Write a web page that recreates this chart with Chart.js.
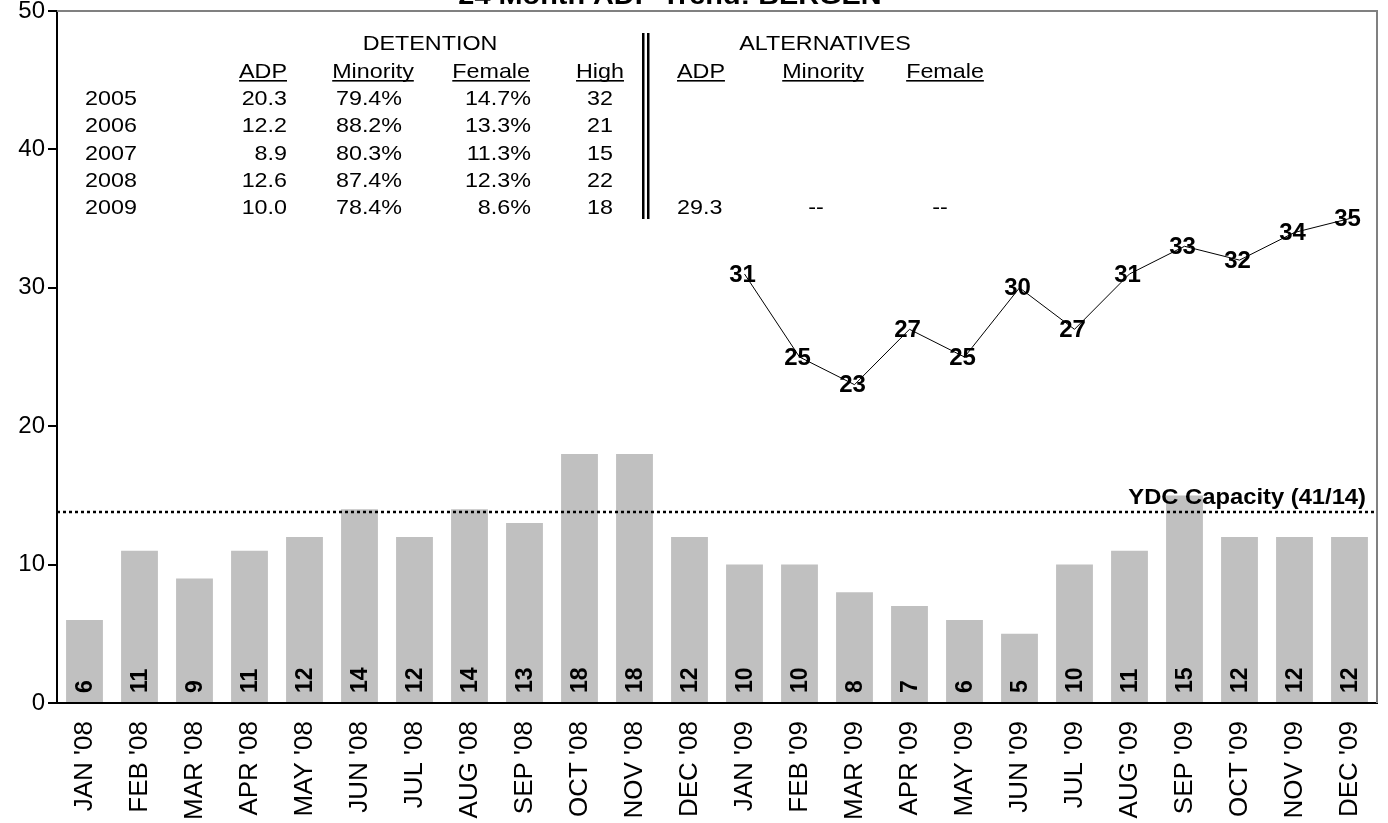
<!DOCTYPE html>
<html><head><meta charset="utf-8">
<script src="https://cdn.jsdelivr.net/npm/chart.js@4"></script>
<style>html,body{margin:0;padding:0;background:#fff}#wrap{width:1388px;height:823px;position:relative}</style>
</head><body><div id="wrap"><canvas id="c" width="1388" height="823"></canvas></div>
<script>
const categories = ["JAN '08","FEB '08","MAR '08","APR '08","MAY '08","JUN '08","JUL '08","AUG '08","SEP '08","OCT '08","NOV '08","DEC '08","JAN '09","FEB '09","MAR '09","APR '09","MAY '09","JUN '09","JUL '09","AUG '09","SEP '09","OCT '09","NOV '09","DEC '09"];
const detentionADP = [6,11,9,11,12,14,12,14,13,18,18,12,10,10,8,7,6,5,10,11,15,12,12,12];
const alternativesADP = [null,null,null,null,null,null,null,null,null,null,null,null,31,25,23,27,25,30,27,31,33,32,34,35];
const capacityValue = 13.8;
const capacityLabel = "YDC Capacity (41/14)";
const titleText = "24 Month ADP Trend: BERGEN";
const tableYears = ["2005","2006","2007","2008","2009"];
const detADP = ["20.3","12.2","8.9","12.6","10.0"];
const detMinority = ["79.4%","88.2%","80.3%","87.4%","78.4%"];
const detFemale = ["14.7%","13.3%","11.3%","12.3%","8.6%"];
const detHigh = ["32","21","15","22","18"];
const altADP = ["","","","","29.3"];
const altMinority = ["","","","","--"];
const altFemale = ["","","","","--"];

const FONT = "'Liberation Sans', Arial, sans-serif";
const NARROW = "'Liberation Sans Narrow', 'Liberation Sans', Arial, sans-serif";
const SX = 1.11;

function sText(ctx, t, x, y, align, sx) {
  ctx.save();
  ctx.translate(x, y);
  ctx.scale(sx, 1);
  ctx.textAlign = align;
  ctx.fillText(t, 0, 0);
  ctx.restore();
}

const decor = {
  id: 'decor',
  beforeDatasetsDraw(chart) {
    const {ctx, chartArea: a} = chart;
    ctx.save();
    ctx.strokeStyle = '#808080'; ctx.lineWidth = 2;
    ctx.beginPath(); ctx.moveTo(a.left, a.top); ctx.lineTo(a.right, a.top); ctx.lineTo(a.right, a.bottom); ctx.stroke();
    ctx.restore();
  },
  afterDatasetsDraw(chart) {
    const {ctx, chartArea: a, scales: {y}} = chart;
    ctx.save();
    ctx.fillStyle = '#000';
    ctx.textBaseline = 'alphabetic';
    // capacity line
    const cy = Math.round(y.getPixelForValue(capacityValue));
    ctx.strokeStyle = '#000'; ctx.lineWidth = 2.5; ctx.setLineDash([3,3]);
    ctx.beginPath(); ctx.moveTo(a.left, cy); ctx.lineTo(a.right, cy); ctx.stroke();
    ctx.setLineDash([]);
    ctx.font = 'bold 22px ' + FONT;
    sText(ctx, capacityLabel, a.right - 11, cy - 8, 'right', 1.08);

    // bar labels
    const bm = chart.getDatasetMeta(0);
    ctx.font = 'bold 23px ' + FONT;
    bm.data.forEach((el, i) => {
      ctx.save();
      ctx.translate(el.x, el.base - 9);
      ctx.rotate(-Math.PI / 2);
      ctx.textAlign = 'left'; ctx.textBaseline = 'middle';
      ctx.fillText(String(detentionADP[i]), 0, 1);
      ctx.restore();
    });
    // line labels
    const lm = chart.getDatasetMeta(1);
    ctx.font = 'bold 24px ' + NARROW;
    ctx.textAlign = 'center'; ctx.textBaseline = 'middle';
    lm.data.forEach((el, i) => {
      const v = alternativesADP[i];
      if (v == null) return;
      ctx.fillText(String(v), el.x - 2, el.y + 1);
    });
    ctx.textBaseline = 'alphabetic';

    // title (partially off the top)
    ctx.font = 'bold 26px ' + FONT;
    sText(ctx, titleText, 670, 4, 'center', SX);

    // table
    ctx.font = '21px ' + FONT;
    const ul = (t, x, yy, align) => {
      const w = ctx.measureText(t).width * SX;
      sText(ctx, t, x, yy, align, SX);
      let x0 = align === 'left' ? x : align === 'right' ? x - w : x - w / 2;
      ctx.fillRect(x0, yy + 2.5, w, 1.6);
    };
    sText(ctx, 'DETENTION', 430, 50, 'center', SX);
    sText(ctx, 'ALTERNATIVES', 825, 50, 'center', SX);
    ul('ADP', 287, 77.5, 'right'); ul('Minority', 373, 77.5, 'center'); ul('Female', 530, 77.5, 'right'); ul('High', 600, 77.5, 'center');
    ul('ADP', 677, 77.5, 'left'); ul('Minority', 823, 77.5, 'center'); ul('Female', 945, 77.5, 'center');
    const rowY = [105, 132.3, 159.6, 187, 214.3];
    tableYears.forEach((yr, i) => {
      const ry = rowY[i];
      sText(ctx, yr, 85, ry, 'left', SX);
      sText(ctx, detADP[i], 287, ry, 'right', SX);
      sText(ctx, detMinority[i], 369, ry, 'center', SX);
      sText(ctx, detFemale[i], 531, ry, 'right', SX);
      sText(ctx, detHigh[i], 600, ry, 'center', SX);
      if (altADP[i]) sText(ctx, altADP[i], 677, ry, 'left', SX);
      if (altMinority[i]) sText(ctx, altMinority[i], 816, ry, 'center', SX);
      if (altFemale[i]) sText(ctx, altFemale[i], 940, ry, 'center', SX);
    });
    ctx.fillRect(642, 33, 2.5, 186);
    ctx.fillRect(647, 33, 2.5, 186);
    ctx.restore();
  }
};

new Chart(document.getElementById('c'), {
  data: {
    labels: categories,
    datasets: [
      { type: 'bar', data: detentionADP, backgroundColor: '#c0c0c0', borderWidth: 0, barPercentage: 0.67, categoryPercentage: 1.0, order: 2 },
      { type: 'line', data: alternativesADP, borderColor: '#000', borderWidth: 1, pointRadius: 0, fill: false, tension: 0, spanGaps: false, order: 1 }
    ]
  },
  options: {
    responsive: false, animation: false, devicePixelRatio: 1,
    layout: { padding: { top: 11, right: 11, left: 0, bottom: 0 } },
    plugins: { legend: { display: false }, tooltip: { enabled: false }, title: { display: false } },
    scales: {
      x: {
        offset: true,
        grid: { display: false, drawTicks: false },
        border: { display: true, color: '#000', width: 2 },
        ticks: { color: '#000', font: { family: FONT, size: 26 }, maxRotation: 90, minRotation: 90, autoSkip: false, padding: 18 },
        afterFit(s) { s.height = 120; s.paddingLeft = 0; s.paddingRight = 0; }
      },
      y: {
        min: 0, max: 50,
        grid: { display: true, drawOnChartArea: false, drawTicks: true, tickLength: 9, color: '#000', lineWidth: 2 },
        border: { display: true, color: '#000', width: 2 },
        ticks: { stepSize: 10, color: '#000', font: { family: FONT, size: 24 }, padding: 3 },
        afterFit(s) { s.width = 57; s.paddingTop = 0; s.paddingBottom = 0; }
      }
    }
  },
  plugins: [decor]
});
</script></body></html>
